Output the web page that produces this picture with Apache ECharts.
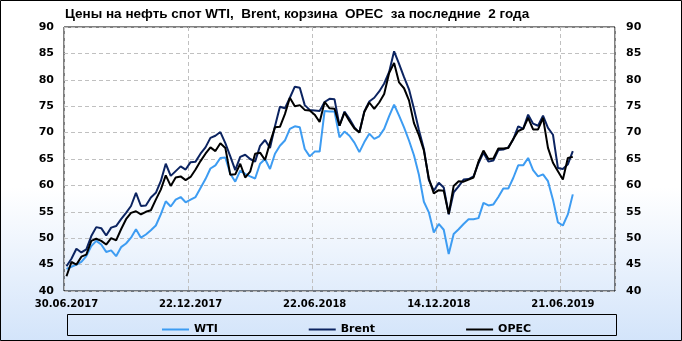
<!DOCTYPE html>
<html>
<head>
<meta charset="utf-8">
<script src="https://cdn.jsdelivr.net/npm/echarts@6/dist/echarts.min.js"></script>
<style>html,body{margin:0;padding:0;background:#fff}#c{width:682px;height:341px}</style>
</head>
<body>
<div id="c"></div>
<script>
const title = 'Цены на нефть спот WTI,  Brent, корзина  OPEC  за последние  2 года';
const categories = [
'30.06.2017','07.07.2017','14.07.2017','21.07.2017','28.07.2017','04.08.2017','11.08.2017','18.08.2017','25.08.2017','01.09.2017',
'08.09.2017','15.09.2017','22.09.2017','29.09.2017','06.10.2017','13.10.2017','20.10.2017','27.10.2017','03.11.2017','10.11.2017',
'17.11.2017','24.11.2017','01.12.2017','08.12.2017','15.12.2017','22.12.2017','29.12.2017','12.01.2018','19.01.2018','26.01.2018',
'02.02.2018','09.02.2018','16.02.2018','23.02.2018','02.03.2018','09.03.2018','16.03.2018','23.03.2018','30.03.2018','06.04.2018',
'13.04.2018','20.04.2018','27.04.2018','04.05.2018','11.05.2018','18.05.2018','25.05.2018','01.06.2018','08.06.2018','15.06.2018',
'22.06.2018','29.06.2018','06.07.2018','13.07.2018','20.07.2018','27.07.2018','03.08.2018','10.08.2018','17.08.2018','24.08.2018',
'31.08.2018','07.09.2018','14.09.2018','21.09.2018','28.09.2018','05.10.2018','12.10.2018','19.10.2018','26.10.2018','02.11.2018',
'09.11.2018','16.11.2018','23.11.2018','30.11.2018','07.12.2018','14.12.2018','21.12.2018','11.01.2019','18.01.2019','25.01.2019',
'01.02.2019','08.02.2019','15.02.2019','22.02.2019','01.03.2019','08.03.2019','15.03.2019','22.03.2019','29.03.2019','05.04.2019',
'12.04.2019','19.04.2019','26.04.2019','03.05.2019','10.05.2019','17.05.2019','24.05.2019','31.05.2019','07.06.2019','14.06.2019',
'21.06.2019','28.06.2019','05.07.2019'
];
const axisSlots = 111;
const wti = [
44.2,44.6,45.0,45.5,46.6,48.5,49.5,48.8,47.4,47.7,
46.6,48.3,49.0,50.1,51.7,50.1,50.7,51.5,52.4,54.5,
57.0,56.0,57.3,57.8,56.8,57.3,57.8,59.5,61.2,63.2,
63.8,65.2,65.3,62.2,60.7,62.8,62.2,61.7,61.3,64.1,
65.0,63.1,66.0,67.5,68.5,70.7,71.2,71.0,66.9,65.5,
66.4,66.4,74.1,74.0,74.0,69.1,70.2,69.4,68.1,66.3,
68.2,69.8,68.8,69.3,70.7,73.1,75.3,73.2,71.0,68.5,
65.7,62.0,56.9,54.9,51.1,52.7,51.6,47.0,50.8,51.7,
52.7,53.6,53.6,53.8,56.7,56.2,56.4,57.8,59.4,59.4,
61.4,63.8,63.8,65.2,62.9,61.7,62.1,60.8,57.3,53.0,
52.4,54.5,58.3
];
const brent = [
44.7,46.1,48.0,47.3,47.9,50.4,52.1,51.9,50.5,52.0,
52.3,53.6,54.8,56.1,58.6,56.1,56.2,57.7,58.6,60.8,
64.1,61.8,62.7,63.6,63.0,64.4,64.5,66.0,67.2,69.0,
69.4,70.1,68.0,65.5,62.9,65.4,65.8,65.0,64.5,67.5,
68.6,67.1,71.2,74.9,74.6,76.6,78.7,78.5,75.2,74.3,
74.2,74.1,75.8,76.4,76.3,71.3,74.0,72.6,71.0,70.0,
74.0,75.9,76.6,77.8,79.3,81.5,85.4,83.0,80.5,78.2,
74.5,70.5,66.9,61.0,59.0,60.5,59.6,54.5,58.7,59.8,
61.1,61.2,61.7,64.2,66.2,64.5,64.7,66.7,66.8,67.2,
68.7,71.2,70.7,73.4,71.7,71.3,73.2,70.9,69.6,63.3,
63.1,64.0,66.5
];
const opec = [
42.8,45.5,45.0,46.5,46.9,49.5,49.9,49.5,48.8,50.0,
49.6,51.7,53.6,54.8,55.1,54.5,55.0,55.3,57.3,59.2,
61.9,59.9,61.5,61.7,61.0,61.6,63.0,64.6,66.0,67.2,
66.5,68.0,67.1,62.0,62.1,64.1,61.5,62.6,66.0,66.2,
64.8,68.1,71.0,71.1,73.5,76.6,75.0,75.2,74.3,74.2,
73.4,72.0,75.8,74.6,74.5,71.3,73.8,72.2,70.8,70.0,
73.9,75.7,74.5,75.7,77.3,81.3,83.2,79.5,78.4,76.1,
71.8,69.5,66.6,61.3,58.5,59.1,59.0,54.6,59.9,60.8,
60.7,61.1,61.5,64.5,66.6,65.0,65.1,67.0,67.0,67.1,
68.8,70.3,70.7,72.8,70.6,70.6,72.8,67.1,64.3,62.7,
61.1,65.2,65.4
];
const seriesNames = ['WTI','Brent','OPEC'];
const seriesColors = ['#3d9cf2','#0c2461','#000000'];

const axisData = categories.concat(new Array(axisSlots - categories.length).fill(''));
const FONT = '"DejaVu Sans", Verdana, sans-serif';

const chart = echarts.init(document.getElementById('c'), null, {renderer:'canvas'});
chart.setOption({
  animation: false,
  backgroundColor: {type:'linear', x:0, y:0, x2:0, y2:1, colorStops:[
    {offset:0, color:'#ffffff'},{offset:0.55, color:'#ffffff'},{offset:1, color:'#d3e4fa'}]},
  grid: {left:64, right:67, top:27, bottom:50, show:true, borderColor:'#000', borderWidth:1, backgroundColor:'transparent'},
  xAxis: {
    type:'category', data: axisData, boundaryGap:true,
    axisLine:{show:false}, axisTick:{show:false},
    axisLabel:{interval:24, margin:8, color:'#000', fontWeight:'bold', fontSize:10, fontFamily:FONT},
    splitLine:{show:true, interval:24, lineStyle:{color:'#c0c0c0', type:[4,3], width:1}}
  },
  yAxis: [
    {type:'value', min:40, max:90, interval:5, position:'left',
     axisLine:{show:false}, axisTick:{show:false},
     axisLabel:{margin:10, color:'#000', fontWeight:'bold', fontSize:11, fontFamily:FONT},
     splitLine:{show:true, lineStyle:{color:'#c0c0c0', type:[4,3], width:1}}},
    {type:'value', min:40, max:90, interval:5, position:'right',
     axisLine:{show:false}, axisTick:{show:false},
     axisLabel:{margin:11, color:'#000', fontWeight:'bold', fontSize:11, fontFamily:FONT},
     splitLine:{show:false}}
  ],
  legend: {
    left:157, top:319, itemWidth:27, itemHeight:2, itemGap:91, icon:'rect',
    textStyle:{color:'#000', fontWeight:'bold', fontSize:11, fontFamily:FONT},
    data: seriesNames
  },
  series: [
    {name:seriesNames[0], type:'line', data:wti, symbol:'none', lineStyle:{width:2, color:seriesColors[0]}, itemStyle:{color:seriesColors[0]}},
    {name:seriesNames[1], type:'line', data:brent, symbol:'none', lineStyle:{width:2, color:seriesColors[1]}, itemStyle:{color:seriesColors[1]}},
    {name:seriesNames[2], type:'line', data:opec, symbol:'none', lineStyle:{width:2, color:seriesColors[2]}, itemStyle:{color:seriesColors[2]}}
  ],
  graphic: [
    {type:'text', left:65, top:7, style:{text:title, font:'bold 13.5px "Liberation Sans", Arial, sans-serif', fill:'#000'}},
    {type:'rect', shape:{x:67.5, y:314.5, width:549, height:21}, style:{fill:'none', stroke:'#000', lineWidth:1}},
    {type:'rect', shape:{x:0.5, y:0.5, width:681, height:340}, style:{fill:'none', stroke:'#000', lineWidth:1}}
  ]
});
</script>
</body>
</html>
